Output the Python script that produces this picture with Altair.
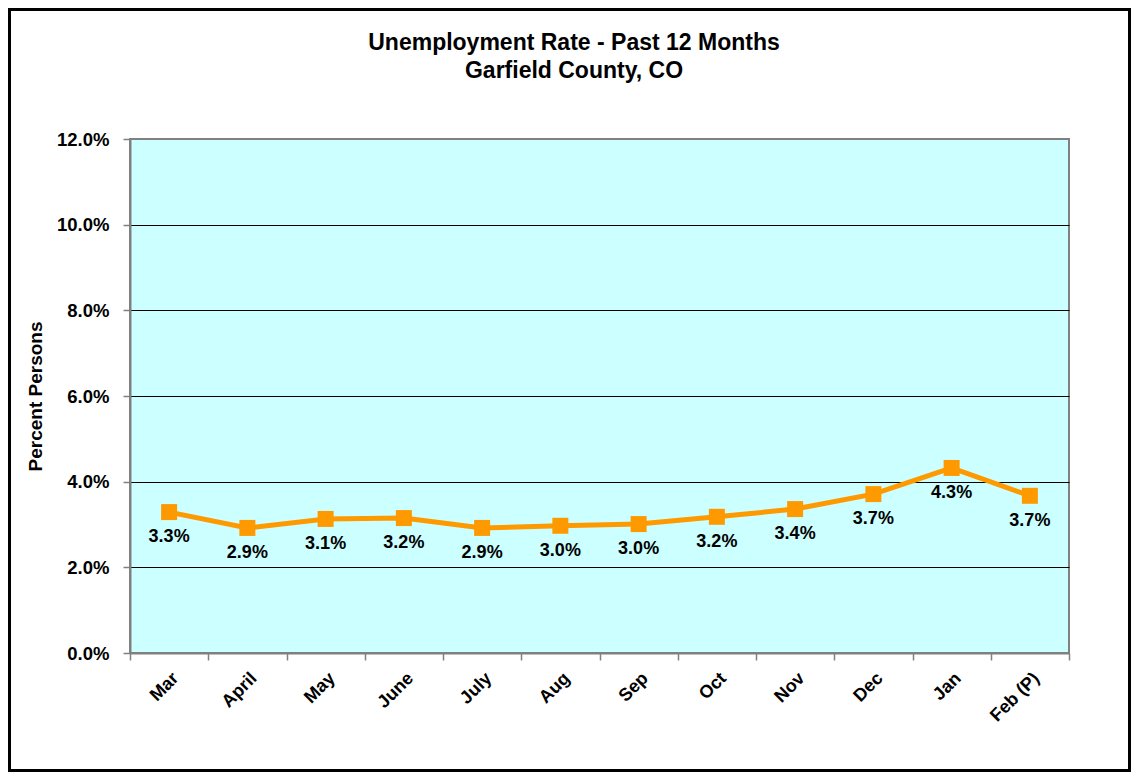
import altair as alt
import pandas as pd

months = ["Mar", "April", "May", "June", "July", "Aug", "Sep", "Oct", "Nov", "Dec", "Jan", "Feb (P)"]
rates = [3.29, 2.92, 3.13, 3.15, 2.92, 2.97, 3.01, 3.18, 3.36, 3.71, 4.32, 3.67]
labels = ["3.3%", "2.9%", "3.1%", "3.2%", "2.9%", "3.0%", "3.0%", "3.2%", "3.4%", "3.7%", "4.3%", "3.7%"]
y_ticks = [0, 2, 4, 6, 8, 10, 12]
title_lines = ["Unemployment Rate - Past 12 Months", "Garfield County, CO"]

df = pd.DataFrame({"month": months, "rate": rates, "label": labels})

FONT = "Liberation Sans"
W, H = 939, 514
PAD = {"left": 122, "top": 131, "right": 62, "bottom": 119}

x_enc = alt.X(
    "month:N",
    sort=months,
    scale=alt.Scale(paddingInner=0, paddingOuter=0),
    axis=alt.Axis(
        title=None,
        labelAngle=-45,
        labelFont=FONT,
        labelFontSize=18,
        labelFontWeight="bold",
        labelColor="black",
        labelPadding=9,
        tickBand="extent",
        tickColor="#808080",
        tickSize=7,
        tickWidth=1.5,
        domainColor="#808080",
        domainWidth=2,
        grid=False,
    ),
)

y_enc = alt.Y(
    "rate:Q",
    scale=alt.Scale(domain=[0, 12], nice=False, zero=True),
    axis=alt.Axis(
        title="Percent Persons",
        titleFont=FONT,
        titleFontSize=19,
        titleFontWeight="bold",
        titleColor="black",
        titleX=-95,
        titleBaseline="middle",
        values=y_ticks,
        labelExpr="format(datum.value, '.1f') + '%'",
        labelFont=FONT,
        labelFontSize=18.5,
        labelFontWeight="bold",
        labelColor="black",
        labelPadding=14,
        tickColor="#808080",
        tickSize=7,
        tickWidth=1.5,
        domainColor="#808080",
        domainWidth=2,
        grid=True,
        gridColor={"condition": {"test": "datum.value === 12 || datum.value === 0", "value": "#808080"}, "value": "black"},
        gridWidth=1,
    ),
)

base = alt.Chart(df)

line = base.mark_line(color="#FF9900", strokeWidth=5).encode(x=x_enc, y=y_enc)
pts = base.mark_square(color="#FF9900", size=256, opacity=1).encode(x=x_enc, y=y_enc)
txt = base.mark_text(
    dy=25, font=FONT, fontSize=18, fontWeight="bold", color="black", baseline="middle", align="center"
).encode(x=x_enc, y=y_enc, text="label:N")

one = pd.DataFrame({"a": [0]})

frame = alt.Chart(one).mark_rect(
    fill=None, stroke="black", strokeWidth=3, filled=False
).encode(
    x=alt.value(-PAD["left"] + 1.5),
    x2=alt.value(W + PAD["right"] - 1.5),
    y=alt.value(-PAD["top"] + 1.5),
    y2=alt.value(H + PAD["bottom"] - 1.5),
)

title = alt.Chart(one).mark_text(
    text=title_lines,
    font=FONT,
    fontSize=23,
    fontWeight="bold",
    color="black",
    lineHeight=28,
    align="center",
    baseline="middle",
).encode(x=alt.value(444), y=alt.value(-96))

chart = alt.layer(line, pts, txt, frame, title).properties(
    width=W,
    height=H,
    padding=PAD,
    autosize=alt.AutoSizeParams(type="none"),
    background="white",
).configure_view(
    fill="#CCFFFF", stroke="#808080", strokeWidth=2
)

chart.save("out.html", embed_options={"renderer": "svg", "actions": False})
